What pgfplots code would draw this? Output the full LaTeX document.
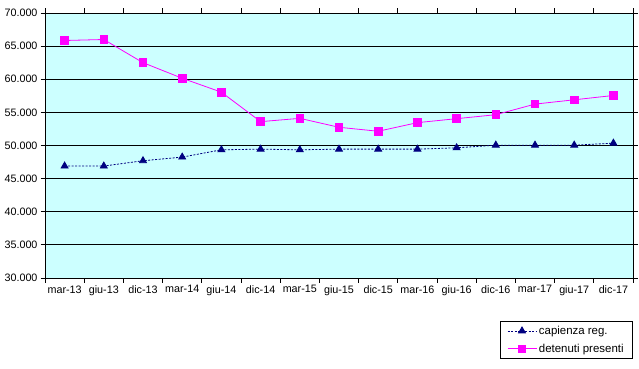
\documentclass[border=0pt]{standalone}
\usepackage{pgfplots}
\pgfplotsset{compat=1.18}
\usepackage{fontspec}
\setmainfont{Liberation Sans}
\definecolor{bgc}{HTML}{CCFFFF}
\definecolor{navy}{HTML}{000080}
\definecolor{mag}{HTML}{FF00FF}
\begin{document}
\begin{tikzpicture}[x=1bp,y=1bp]
\useasboundingbox (0,0) rectangle (639,368);
\begin{axis}[
  at={(45bp,90bp)}, anchor=south west,
  width=588bp, height=265bp, scale only axis,
  xmin=-0.5, xmax=14.5, ymin=30000, ymax=70000,
  scaled y ticks=false,
  axis background/.style={fill=bgc},
  axis line style={black, line width=0.9bp},
  ymajorgrids, grid style={black, line width=0.9bp},
  tick align=outside,
  major tick length=0pt, minor tick length=4.5bp,
  tick style={black, line width=0.8bp},
  xtick={0,...,14},
  xticklabels={mar-13,giu-13,dic-13,mar-14,giu-14,dic-14,mar-15,giu-15,dic-15,mar-16,giu-16,dic-16,mar-17,giu-17,dic-17},
  minor xtick={-0.5,0.5,...,14.5},
  ytick={30000,35000,40000,45000,50000,55000,60000,65000,70000},
  yticklabels={30.000,35.000,40.000,45.000,50.000,55.000,60.000,65.000,70.000},
  minor ytick={30000,35000,40000,45000,50000,55000,60000,65000,70000},
  tick label style={font=\fontsize{10.8}{12}\selectfont, black},
  xticklabel style={yshift=-4bp},
  yticklabel style={xshift=-4bp},
  legend style={at={(1,-0.161)}, anchor=north east, draw=black, fill=white,
    line width=0.8bp,
    font=\fontsize{11.5}{13}\selectfont, cells={anchor=west},
    inner xsep=7bp, inner ysep=3bp, row sep=4bp},
  legend image code/.code={\draw[#1, mark repeat=2, mark phase=2] plot coordinates {(0bp,0bp) (14.5bp,0bp) (29bp,0bp)};},
]
\addplot[navy, line width=0.8bp, dash pattern=on 2bp off 1.5bp, mark=triangle*, mark size=4bp, mark options={solid}]
coordinates {(0,46900) (1,46900) (2,47700) (3,48250) (4,49350) (5,49450) (6,49350) (7,49450) (8,49450) (9,49450) (10,49650) (11,50050) (12,50050) (13,50050) (14,50350)};
\addlegendentry{capienza reg.}
\addplot[mag, line width=0.8bp, mark=square*, mark size=3.8bp]
coordinates {(0,65850) (1,66000) (2,62500) (3,60150) (4,58050) (5,53600) (6,54100) (7,52750) (8,52150) (9,53450) (10,54050) (11,54650) (12,56250) (13,56900) (14,57550)};
\addlegendentry{detenuti presenti}
\end{axis}
\end{tikzpicture}
\end{document}
